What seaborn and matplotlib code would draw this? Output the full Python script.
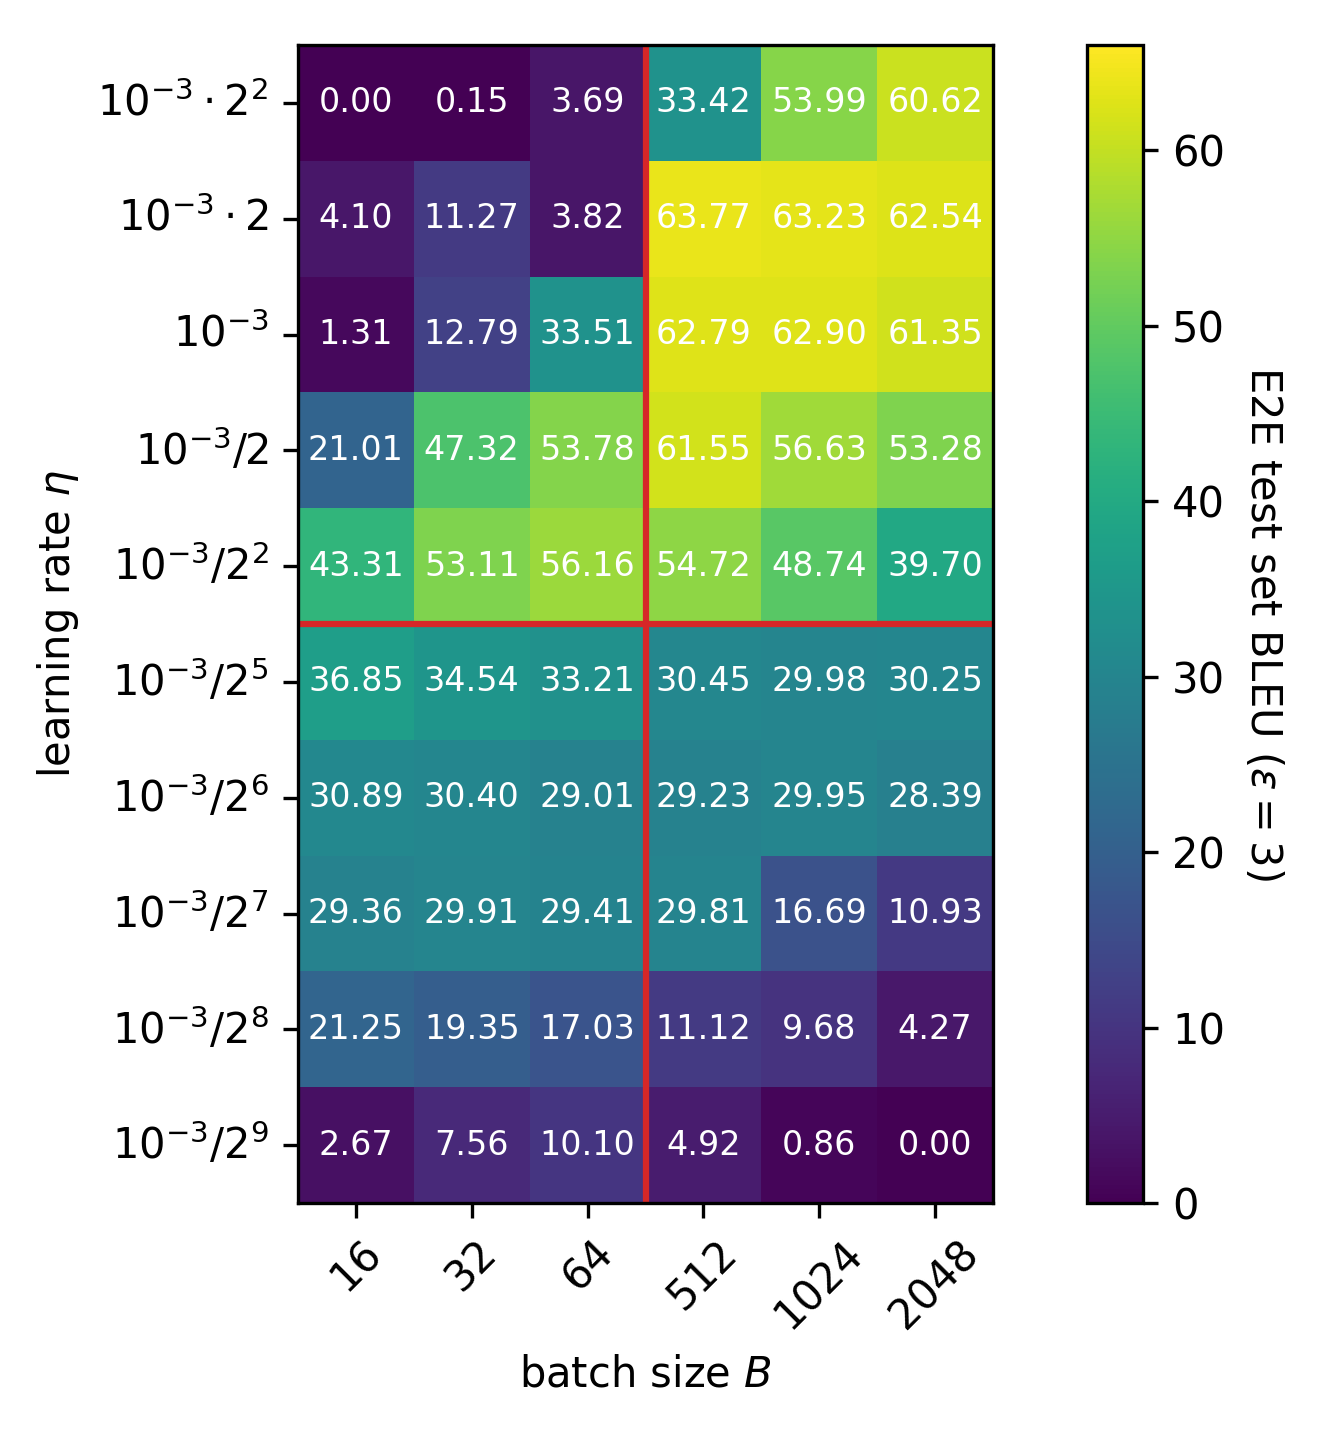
import numpy as np
import pandas as pd
import matplotlib
matplotlib.use("Agg")
import matplotlib.pyplot as plt
import seaborn as sns

batch_sizes = ["16", "32", "64", "512", "1024", "2048"]
learning_rates = [r"$10^{-3}\cdot 2^2$", r"$10^{-3}\cdot 2$", r"$10^{-3}$", r"$10^{-3}/2$",
                  r"$10^{-3}/2^2$", r"$10^{-3}/2^5$", r"$10^{-3}/2^6$", r"$10^{-3}/2^7$",
                  r"$10^{-3}/2^8$", r"$10^{-3}/2^9$"]
bleu = [
    [0.00, 0.15, 3.69, 33.42, 53.99, 60.62],
    [4.10, 11.27, 3.82, 63.77, 63.23, 62.54],
    [1.31, 12.79, 33.51, 62.79, 62.90, 61.35],
    [21.01, 47.32, 53.78, 61.55, 56.63, 53.28],
    [43.31, 53.11, 56.16, 54.72, 48.74, 39.70],
    [36.85, 34.54, 33.21, 30.45, 29.98, 30.25],
    [30.89, 30.40, 29.01, 29.23, 29.95, 28.39],
    [29.36, 29.91, 29.41, 29.81, 16.69, 10.93],
    [21.25, 19.35, 17.03, 11.12, 9.68, 4.27],
    [2.67, 7.56, 10.10, 4.92, 0.86, 0.00],
]
split_col = 3
split_row = 5

df = pd.DataFrame(bleu, index=learning_rates, columns=batch_sizes)

W, H = 1332, 1440
fig = plt.figure(figsize=(W / 300, H / 300), dpi=300)
ax = fig.add_axes([298 / W, (H - 1203) / H, 695 / W, 1158 / H])
cax = fig.add_axes([1087 / W, (H - 1203) / H, 56 / W, 1158 / H])

sns.heatmap(df, ax=ax, cbar_ax=cax, cmap="viridis", vmin=0, vmax=66,
            annot=True, fmt=".2f", annot_kws={"color": "white", "fontsize": 8})

for sp in ax.spines.values():
    sp.set_visible(True)
    sp.set_linewidth(0.8)
    sp.set_color("black")
cb = ax.collections[0].colorbar
cb.outline.set_visible(True)
cb.outline.set_linewidth(0.8)
cb.outline.set_edgecolor("black")
cb.set_label(r"E2E test set BLEU ($\epsilon = 3$)", rotation=270, labelpad=14, fontsize=10)
cb.ax.tick_params(labelsize=10)

ax.axvline(split_col, color="tab:red", lw=1.5)
ax.axhline(split_row, color="tab:red", lw=1.5)

ax.set_xticklabels(batch_sizes, rotation=45, fontsize=10)
ax.set_yticklabels(learning_rates, rotation=0, fontsize=10)
ax.set_xlabel(r"batch size $B$", fontsize=10)
ax.set_ylabel(r"learning rate $\eta$", fontsize=10)

fig.savefig("out.png", dpi=300)
